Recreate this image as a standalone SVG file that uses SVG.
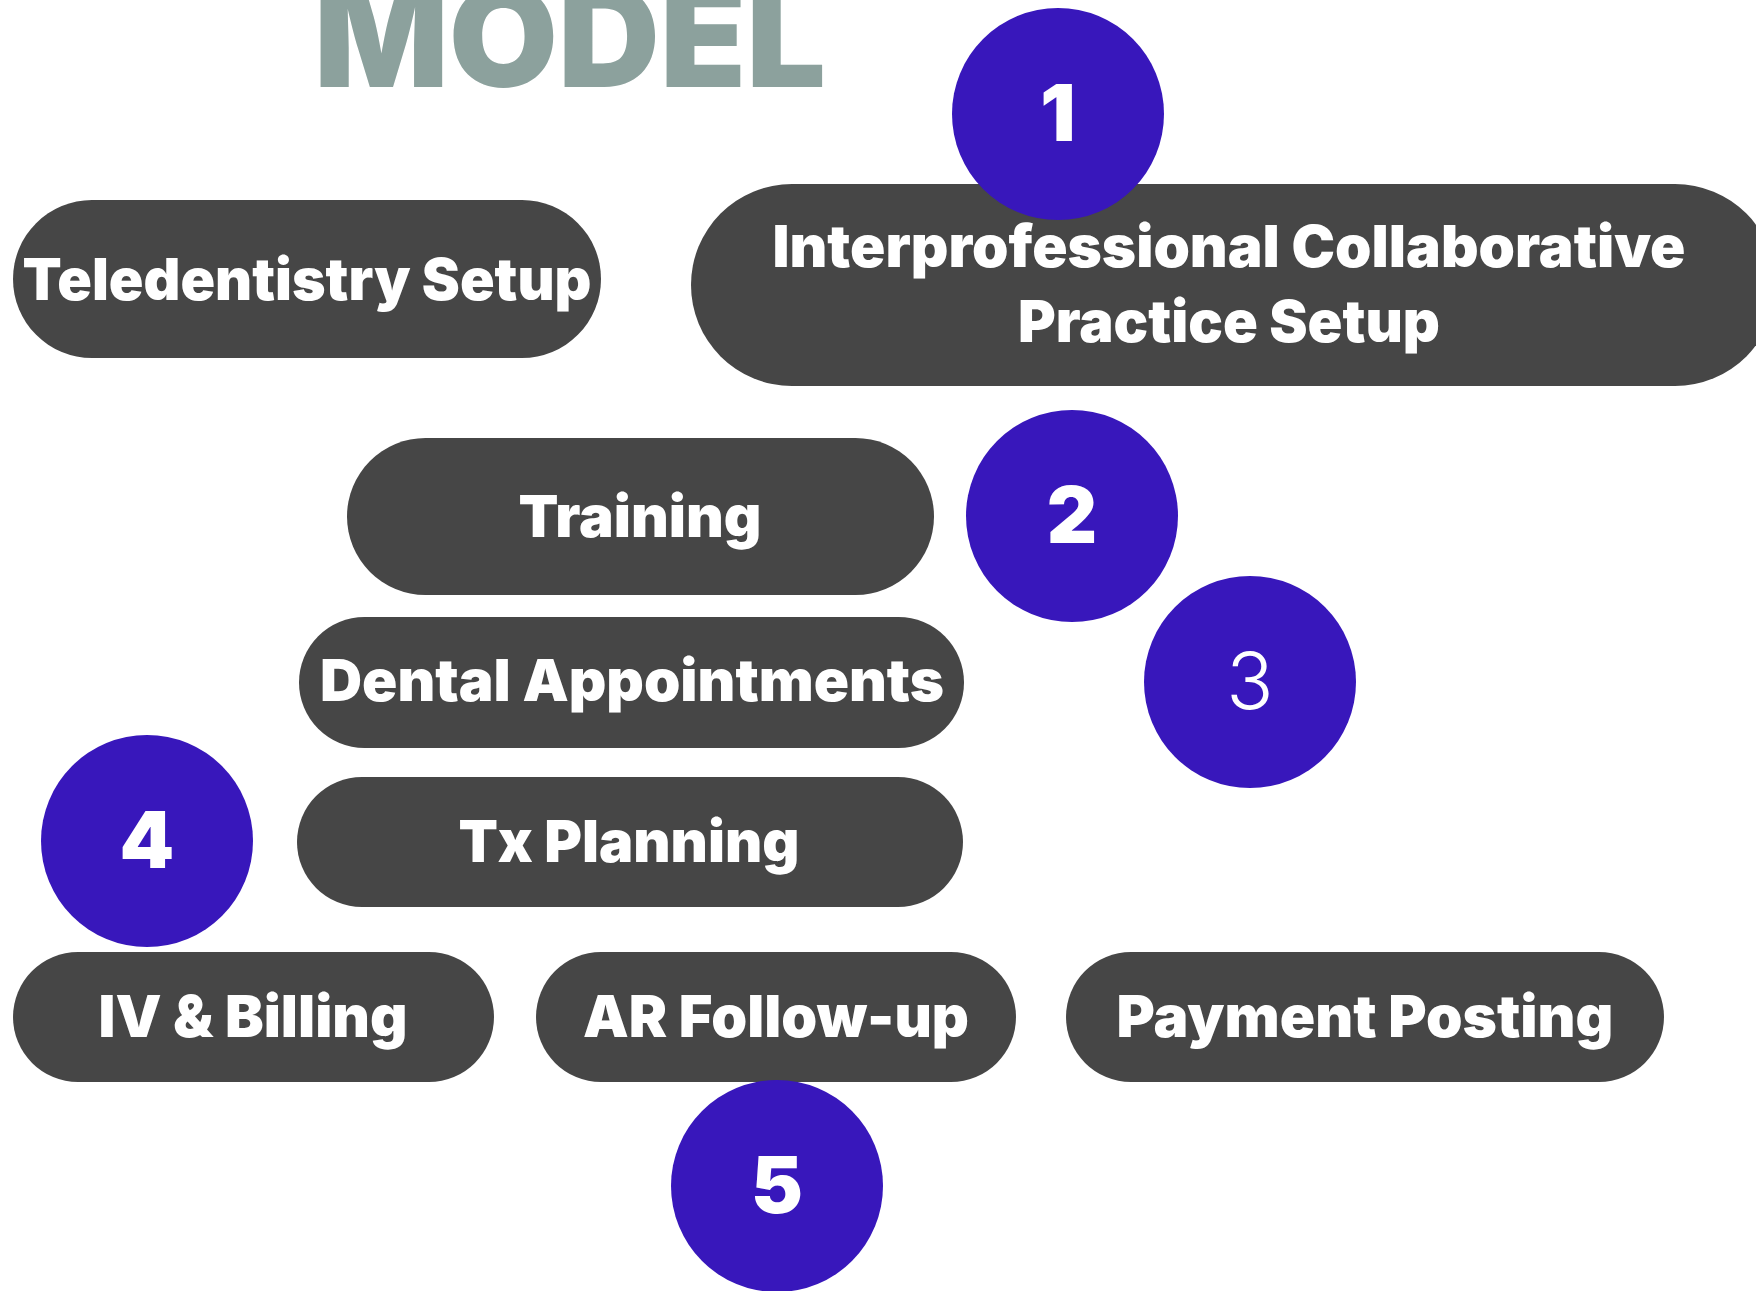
<svg xmlns="http://www.w3.org/2000/svg" width="1756" height="1291" viewBox="0 0 1756 1291">
<style>
.pill{fill:#464646}
.circ{fill:#3817bb}
.lbl{font-family:Inter,"Liberation Sans",sans-serif;font-weight:900;font-size:58px;fill:#ffffff;text-anchor:middle}
.num{font-family:Inter,"Liberation Sans",sans-serif;font-weight:900;font-size:78px;fill:#ffffff;text-anchor:middle}
.title{font-family:Inter,"Liberation Sans",sans-serif;font-weight:900;font-size:140px;fill:#8ca19d}
</style>
<rect width="1756" height="1291" fill="#ffffff"/>
<text class="title" x="314" y="87" textLength="512" lengthAdjust="spacingAndGlyphs">MODEL</text>
<g id="connectors"></g>
<g id="n-teledentistry">
<rect class="pill" x="13" y="200" width="588" height="158" rx="79"/>
<text class="lbl" x="307" y="300" textLength="569" lengthAdjust="spacingAndGlyphs">Teledentistry Setup</text>
</g>
<g id="n-ipc">
<rect class="pill" x="691" y="184" width="1085" height="202" rx="101"/>
<text class="lbl" x="1229" y="267" textLength="913" lengthAdjust="spacingAndGlyphs">Interprofessional Collaborative</text>
<text class="lbl" x="1229" y="342" textLength="422" lengthAdjust="spacingAndGlyphs">Practice Setup</text>
</g>
<g id="n-step1">
<circle class="circ" cx="1058" cy="114" r="106"/>
<text class="num" x="1058" y="141">1</text>
</g>
<g id="n-training">
<rect class="pill" x="347" y="438" width="587" height="157" rx="78.5"/>
<text class="lbl" x="640" y="537" textLength="243" lengthAdjust="spacingAndGlyphs">Training</text>
</g>
<g id="n-step2">
<circle class="circ" cx="1072" cy="516" r="106"/>
<text class="num" x="1072" y="543">2</text>
</g>
<g id="n-dental">
<rect class="pill" x="299" y="617" width="665" height="131" rx="65.5"/>
<text class="lbl" x="632" y="701" textLength="624" lengthAdjust="spacingAndGlyphs">Dental Appointments</text>
</g>
<g id="n-step3">
<circle class="circ" cx="1250" cy="682" r="106"/>
<text class="num" x="1250" y="709" style="font-weight:300">3</text>
</g>
<g id="n-tx">
<rect class="pill" x="297" y="777" width="666" height="130" rx="65"/>
<text class="lbl" x="629" y="862" textLength="341" lengthAdjust="spacingAndGlyphs">Tx Planning</text>
</g>
<g id="n-step4">
<circle class="circ" cx="147" cy="841" r="106"/>
<text class="num" x="147" y="868">4</text>
</g>
<g id="n-iv">
<rect class="pill" x="13" y="952" width="481" height="130" rx="65"/>
<text class="lbl" x="253" y="1037" textLength="309" lengthAdjust="spacingAndGlyphs">IV &amp; Billing</text>
</g>
<g id="n-ar">
<rect class="pill" x="536" y="952" width="480" height="130" rx="65"/>
<text class="lbl" x="776" y="1037" textLength="386" lengthAdjust="spacingAndGlyphs">AR Follow-up</text>
</g>
<g id="n-payment">
<rect class="pill" x="1066" y="952" width="598" height="130" rx="65"/>
<text class="lbl" x="1365" y="1037" textLength="497" lengthAdjust="spacingAndGlyphs">Payment Posting</text>
</g>
<g id="n-step5">
<circle class="circ" cx="777" cy="1186" r="106"/>
<text class="num" x="777" y="1213">5</text>
</g>
</svg>
